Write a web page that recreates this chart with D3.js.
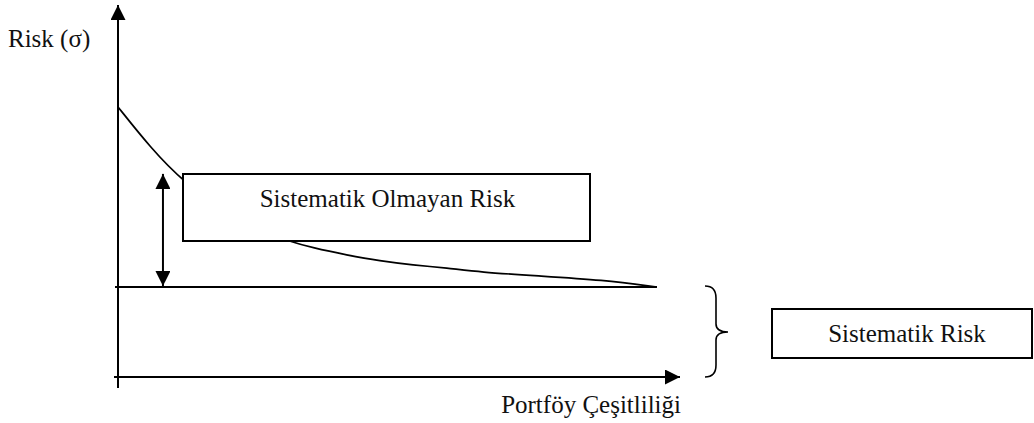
<!DOCTYPE html>
<html lang="tr">
<head>
  <meta charset="UTF-8">
  <title>Risk ve Portföy Çeşitliliği</title>
  <style>
    body {
      margin: 0;
      padding: 0;
      background: #fff;
    }
    svg text {
      font-family: "Liberation Serif", "Times New Roman", serif;
      font-size: 25px;
      fill: #111;
    }
    .ink {
      stroke: #000;
      fill: none;
    }
  </style>
</head>
<body>
  <svg id="chart" width="1034" height="423"></svg>

  <script src="https://d3js.org/d3.v7.min.js"></script>
  <script>
    // curve: portfolio diversity (x) vs total risk (y)
    const diversity = [0, 5.7, 11.6, 20, 25, 30.2, 34.7, 40.7, 46.6, 52.5, 58.5, 64.4, 74.6, 86.3, 95.9];
    const totalRisk = [72.6, 61.8, 52.4, 43.5, 39.5, 36.6, 34.7, 32.8, 31.2, 30.1, 29.3, 28.2, 27.2, 26.1, 24.2];
    const systematicRisk = 24.2;
    const lineEnd = 95.9;
    const arrowAt = 8;
    const arrowTop = 54.6;

    const labels = {
      yAxis: 'Risk (σ)',
      xAxis: 'Portföy Çeşitliliği',
      unsystematic: 'Sistematik Olmayan Risk',
      systematic: 'Sistematik Risk'
    };

    const svg = d3.select('#chart');

    const x = d3.scaleLinear().domain([0, 100]).range([118, 680]);
    const y = d3.scaleLinear().domain([0, 100]).range([377, 5]);

    const defs = svg.append('defs');
    defs.append('marker')
      .attr('id', 'head')
      .attr('viewBox', '0 0 10 10')
      .attr('refX', 10)
      .attr('refY', 5)
      .attr('markerWidth', 7.5)
      .attr('markerHeight', 7.5)
      .attr('markerUnits', 'strokeWidth')
      .attr('orient', 'auto-start-reverse')
      .append('path')
      .attr('d', 'M0,0 L10,5 L0,10 Z')
      .attr('fill', '#000');

    // axes
    svg.append('line').attr('class', 'ink')
      .attr('x1', x(0)).attr('x2', x(0))
      .attr('y1', y(0) + 11).attr('y2', y(100))
      .attr('stroke-width', 2)
      .attr('marker-end', 'url(#head)');

    svg.append('line').attr('class', 'ink')
      .attr('x1', x(0) - 4).attr('x2', x(100))
      .attr('y1', y(0)).attr('y2', y(0))
      .attr('stroke-width', 2)
      .attr('marker-end', 'url(#head)');

    // systematic risk level
    svg.append('line').attr('class', 'ink')
      .attr('x1', x(0) - 3).attr('x2', x(lineEnd))
      .attr('y1', y(systematicRisk)).attr('y2', y(systematicRisk))
      .attr('stroke-width', 2);

    // total risk curve
    const pts = diversity.map((d, i) => [d, totalRisk[i]]);
    const line = d3.line()
      .x(d => x(d[0]))
      .y(d => y(d[1]))
      .curve(d3.curveBasis);
    svg.append('path').attr('class', 'ink')
      .attr('d', line(pts))
      .attr('stroke-width', 1.7);

    // double arrow
    svg.append('line').attr('class', 'ink')
      .attr('x1', x(arrowAt)).attr('x2', x(arrowAt))
      .attr('y1', y(arrowTop)).attr('y2', y(systematicRisk) - 1)
      .attr('stroke-width', 2)
      .attr('marker-start', 'url(#head)')
      .attr('marker-end', 'url(#head)');

    // box: unsystematic risk
    const b1 = { x0: 183, x1: 590, y0: 174, y1: 241 };
    svg.append('rect')
      .attr('x', b1.x0).attr('y', b1.y0)
      .attr('width', b1.x1 - b1.x0).attr('height', b1.y1 - b1.y0)
      .attr('fill', '#fff').attr('stroke', '#000').attr('stroke-width', 2);
    svg.append('text')
      .attr('x', (b1.x0 + b1.x1) / 2 + 1)
      .attr('y', 207)
      .attr('text-anchor', 'middle')
      .text(labels.unsystematic);

    // brace
    const bx = 705, sx = 716, tipX = 728, by0 = 286, by1 = 377;
    const bm = 332;
    svg.append('path').attr('class', 'ink')
      .attr('stroke-width', 1.6)
      .attr('d', `M${bx},${by0} Q${sx},${by0} ${sx},${by0 + 12}
        L${sx},${bm - 8} Q${sx},${bm} ${tipX},${bm}
        Q${sx},${bm} ${sx},${bm + 8}
        L${sx},${by1 - 12} Q${sx},${by1} ${bx},${by1}`);

    // box: systematic risk
    const b2 = { x0: 772, x1: 1032, y0: 309, y1: 358 };
    svg.append('rect')
      .attr('x', b2.x0).attr('y', b2.y0)
      .attr('width', b2.x1 - b2.x0).attr('height', b2.y1 - b2.y0)
      .attr('fill', '#fff').attr('stroke', '#000').attr('stroke-width', 2);
    svg.append('text')
      .attr('x', 907)
      .attr('y', 342)
      .attr('text-anchor', 'middle')
      .text(labels.systematic);

    // axis titles
    svg.append('text').attr('x', 8).attr('y', 47).text(labels.yAxis);
    svg.append('text').attr('x', 681).attr('y', 413)
      .attr('text-anchor', 'end')
      .text(labels.xAxis);
  </script>
</body>
</html>
